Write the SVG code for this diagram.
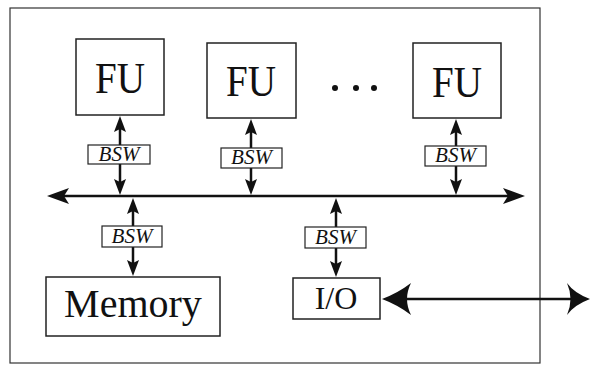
<svg xmlns="http://www.w3.org/2000/svg" width="591" height="367" viewBox="0 0 591 367">
<style>
.box{fill:#fff;stroke:#222;stroke-width:1.5}
.bsw{fill:#fff;stroke:#222;stroke-width:1.2}
.big{font-family:"Liberation Serif",serif;fill:#111;text-anchor:middle}
.sw{font-family:"Liberation Serif",serif;font-style:italic;font-size:21px;fill:#111;text-anchor:middle}
.ln{stroke:#111;stroke-width:2.5;fill:none}
.hd{fill:#111;stroke:none}
</style>
<rect x="10" y="8" width="530" height="355" fill="#fff" stroke="#333" stroke-width="1.2"/>
<g id="fu1"><rect class="box" x="76" y="39" width="88" height="76"/><text class="big" x="120" y="93" font-size="44" textLength="50" lengthAdjust="spacingAndGlyphs">FU</text></g>
<g id="fu2"><rect class="box" x="207" y="43" width="89" height="75"/><text class="big" x="251" y="96" font-size="44" textLength="50" lengthAdjust="spacingAndGlyphs">FU</text></g>
<g id="fu3"><rect class="box" x="413" y="43" width="88" height="75"/><text class="big" x="457" y="97" font-size="44" textLength="50" lengthAdjust="spacingAndGlyphs">FU</text></g>
<g id="dots"><circle cx="335" cy="88" r="3" fill="#111"/><circle cx="356" cy="88" r="3" fill="#111"/><circle cx="374" cy="88" r="3" fill="#111"/></g>
<g id="memory"><rect class="box" x="46" y="277" width="174" height="59"/><text class="big" x="133" y="317" font-size="40">Memory</text></g>
<g id="io"><rect class="box" x="293" y="278" width="87" height="41"/><text class="big" x="336" y="309" font-size="32">I/O</text></g>
<g id="connectors">
<line class="ln" x1="62" y1="196" x2="510" y2="196" stroke-width="3"/>
<path class="hd" d="M47,196 L69,188 L64,196 L69,204 Z"/>
<path class="hd" d="M525,196 L503,188 L508,196 L503,204 Z"/>
<line class="ln" x1="120" y1="128" x2="120" y2="182"/>
<path class="hd" d="M120,116 L126,132 L120,129 L114,132 Z"/>
<path class="hd" d="M120,195 L114,179 L120,182 L126,179 Z"/>
<line class="ln" x1="251" y1="131" x2="251" y2="182"/>
<path class="hd" d="M251,119 L257,135 L251,132 L245,135 Z"/>
<path class="hd" d="M251,195 L245,179 L251,182 L257,179 Z"/>
<line class="ln" x1="456" y1="131" x2="456" y2="182"/>
<path class="hd" d="M456,119 L462,135 L456,132 L450,135 Z"/>
<path class="hd" d="M456,195 L450,179 L456,182 L462,179 Z"/>
<line class="ln" x1="133" y1="210" x2="133" y2="263"/>
<path class="hd" d="M133,198 L139,214 L133,211 L127,214 Z"/>
<path class="hd" d="M133,276 L127,260 L133,263 L139,260 Z"/>
<line class="ln" x1="336" y1="210" x2="336" y2="264"/>
<path class="hd" d="M336,198 L342,214 L336,211 L330,214 Z"/>
<path class="hd" d="M336,277 L330,261 L336,264 L342,261 Z"/>
<line class="ln" x1="398" y1="299" x2="575" y2="299" stroke-width="5"/>
<path class="hd" d="M382,299 Q398,293 411,283 Q403,299 411,315 Q398,305 382,299 Z"/>
<path class="hd" d="M590,299 Q574,293 567,283 Q574,299 567,315 Q574,305 590,299 Z"/>
</g>
<g id="bsw1"><rect class="bsw" x="88" y="145" width="62" height="19"/><text class="sw" x="119" y="161">BSW</text></g>
<g id="bsw2"><rect class="bsw" x="221" y="148" width="61" height="20"/><text class="sw" x="251.5" y="164">BSW</text></g>
<g id="bsw3"><rect class="bsw" x="425" y="146" width="61" height="20"/><text class="sw" x="455.5" y="162">BSW</text></g>
<g id="bsw4"><rect class="bsw" x="102" y="226" width="60" height="21"/><text class="sw" x="132" y="243">BSW</text></g>
<g id="bsw5"><rect class="bsw" x="305" y="227" width="61" height="21"/><text class="sw" x="335.5" y="244">BSW</text></g>
</svg>
